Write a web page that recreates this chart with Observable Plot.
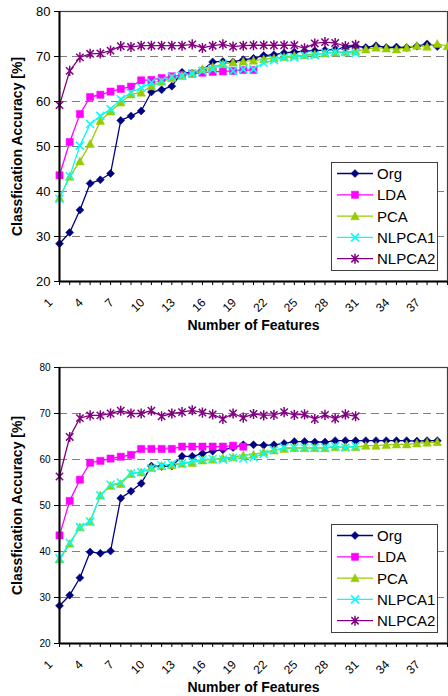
<!DOCTYPE html>
<html><head><meta charset="utf-8">
<script src="https://cdn.jsdelivr.net/npm/d3@7"></script>
<script src="https://cdn.jsdelivr.net/npm/@observablehq/plot@0.6"></script>
<style>
body{margin:0;background:#fff;font-family:"Liberation Sans",Arial,sans-serif;}
#wrap{width:448px;}
.chart{position:relative;width:448px;height:348px;overflow:hidden;}
.legend{position:absolute;left:331px;width:107px;height:109px;border:1px solid #404040;background:#fff;box-sizing:border-box;}
</style></head><body><div id="wrap"></div><script>
// ---- data ----
const xTickLabels = [1, 4, 7, 10, 13, 16, 19, 22, 25, 28, 31, 34, 37];
const yTickValues = [20, 30, 40, 50, 60, 70, 80];
const gridValues = [30, 40, 50, 60, 70];
const seriesNames = ["Org", "LDA", "PCA", "NLPCA1", "NLPCA2"];
const seriesColors = ["#000080", "#FF00FF", "#99CC00", "#00FFFF", "#800080"];
const xTitle = "Number of Features";
const yTitle = "Classfication Accuracy [%]";

// chart 1 (top)
const org1 = [28.4, 30.9, 35.9, 41.8, 42.6, 44.0, 55.8, 56.8, 57.9, 62.1, 62.6, 63.4, 66.5, 66.3, 67.0, 68.8, 68.9, 68.8, 69.3, 69.6, 70.2, 70.4, 70.8, 71.0, 71.2, 71.3, 71.4, 71.6, 72.0, 72.3, 72.0, 72.4, 72.0, 72.1, 72.0, 72.3, 72.8, 72.2];
const lda1 = [43.6, 51.0, 57.2, 61.0, 61.5, 62.2, 62.8, 63.3, 64.7, 64.8, 65.2, 65.6, 65.9, 66.2, 66.4, 66.6, 66.7, 66.8, 67.0, 67.0];
const pca1 = [38.6, 43.3, 46.7, 50.6, 55.7, 57.8, 59.8, 61.6, 62.0, 63.4, 64.4, 65.2, 65.7, 66.3, 67.2, 67.7, 68.3, 68.7, 68.9, 69.1, 69.4, 69.6, 69.9, 70.2, 70.3, 70.5, 70.7, 70.9, 71.0, 71.2, 71.6, 72.0, 71.8, 71.6, 72.0, 72.4, 72.2, 72.8, 72.3];
const nlpcaA1 = [38.4, 43.4, 50.2, 55.0, 56.8, 58.3, 60.5, 62.0, 63.1, 64.2, 64.6, 65.5, 65.7, 66.2, 66.8, 67.2, 68.3, 66.8, 67.2, 67.2, 68.6, 69.2, 69.8, 69.8, 70.3, 70.3, 70.8, 71.0, 71.0, 70.8];
const nlpcaB1 = [59.2, 66.8, 69.8, 70.6, 70.7, 71.3, 72.3, 72.1, 72.4, 72.4, 72.4, 72.4, 72.4, 72.7, 71.9, 72.4, 72.7, 72.2, 72.4, 72.5, 72.5, 72.5, 72.5, 72.5, 71.8, 72.9, 73.2, 73.0, 72.3, 72.6];

// chart 2 (bottom)
const org2 = [28.2, 30.5, 34.3, 39.9, 39.6, 40.1, 51.6, 53.1, 54.8, 58.6, 58.5, 58.6, 60.7, 60.7, 61.3, 61.8, 62.1, 62.6, 63.2, 63.2, 63.1, 63.2, 63.5, 63.9, 63.9, 63.8, 63.8, 64.1, 64.1, 64.1, 64.1, 64.1, 64.1, 64.1, 64.1, 64.0, 64.1, 64.1];
const lda2 = [43.5, 51.0, 55.6, 59.3, 59.7, 60.2, 60.6, 61.0, 62.3, 62.3, 62.3, 62.3, 62.8, 62.8, 62.8, 62.8, 62.8, 63.0, 62.8];
const pca2 = [38.3, 41.7, 45.3, 46.5, 52.2, 54.3, 54.7, 56.9, 57.2, 58.2, 58.6, 58.8, 59.1, 59.3, 59.8, 60.0, 60.3, 60.5, 60.9, 61.1, 61.6, 62.0, 62.3, 62.5, 62.5, 62.5, 62.5, 62.7, 62.7, 62.7, 63.0, 63.0, 63.2, 63.3, 63.3, 63.5, 63.7, 63.8];
const nlpcaA2 = [38.5, 41.9, 45.3, 46.5, 52.2, 54.5, 55.0, 57.0, 57.3, 58.1, 58.7, 59.0, 59.2, 59.6, 60.0, 60.1, 60.0, 60.4, 60.2, 60.5, 61.2, 62.0, 62.6, 62.6, 62.6, 62.6, 62.6, 62.9, 62.6, 62.9];
const nlpcaB2 = [56.3, 64.9, 69.0, 69.6, 69.6, 70.0, 70.6, 70.0, 70.0, 70.6, 69.4, 70.0, 70.3, 70.7, 70.2, 69.8, 68.8, 70.0, 69.1, 69.9, 69.6, 69.7, 70.3, 69.7, 69.8, 68.8, 69.7, 68.9, 69.8, 69.4];

const charts = [
  {series: [org1, lda1, pca1, nlpcaA1, nlpcaB1], marginTop: 11, marginBottom: 67, yFont: 13},
  {series: [org2, lda2, pca2, nlpcaA2, nlpcaB2], marginTop: 19, marginBottom: 53, yFont: 10}
];

// ---- marker symbols (Excel-like) ----
const rOf = s => Math.sqrt(s / Math.PI);
const symDiamond = {draw(c, s) {const r = rOf(s); c.moveTo(0, -r); c.lineTo(r, 0); c.lineTo(0, r); c.lineTo(-r, 0); c.closePath();}};
const symSquare = {draw(c, s) {const r = rOf(s); c.rect(-r, -r, 2 * r, 2 * r);}};
const symTriangle = {draw(c, s) {const r = rOf(s); c.moveTo(0, -r); c.lineTo(r, r * 0.85); c.lineTo(-r, r * 0.85); c.closePath();}};
const symX = {draw(c, s) {const r = rOf(s); c.moveTo(-r, -r); c.lineTo(r, r); c.moveTo(-r, r); c.lineTo(r, -r);}};
const symStar = {draw(c, s) {const r = rOf(s); const q = r * 0.8; c.moveTo(-q, -q); c.lineTo(q, q); c.moveTo(-q, q); c.lineTo(q, -q); c.moveTo(0, -r * 1.1); c.lineTo(0, r * 1.1);}};
const symbols = [symDiamond, symSquare, symTriangle, symX, symStar];
const symR = [4, 3.6, 4.3, 4, 4.6];
const filled = [true, true, true, false, false];

const FONT = "Liberation Sans, Arial, sans-serif";
const wrap = document.getElementById("wrap");

charts.forEach((ch) => {
  const div = document.createElement("div");
  div.className = "chart";
  wrap.appendChild(div);

  const marks = [
    Plot.gridY({ticks: gridValues, stroke: "#808080", strokeOpacity: 1, strokeWidth: 1, strokeDasharray: "8,5"}),
    Plot.frame({stroke: "#404040", strokeWidth: 1.2}),
    Plot.axisY({ticks: yTickValues, tickSize: 5, tickPadding: 4, fontSize: ch.yFont, label: null}),
    Plot.axisX({ticks: d3.range(1, 40), tickSize: 4, tickFormat: () => "", label: null}),
    Plot.text(xTickLabels, {x: d => d, text: d => String(d), frameAnchor: "bottom", rotate: -45, textAnchor: "end", lineAnchor: "middle", dx: -9, dy: 19, fontSize: 12}),
    Plot.text([xTitle], {frameAnchor: "bottom", textAnchor: "middle", dy: 44, fontWeight: "bold", fontSize: 14, lineAnchor: "middle", letterSpacing: "0.4px"}),
    Plot.text([yTitle], {frameAnchor: "left", textAnchor: "middle", rotate: -90, dx: -41.5, fontWeight: "bold", fontSize: 14, lineAnchor: "middle", letterSpacing: "0.2px"})
  ];
  ch.series.forEach((vals, k) => {
    const rows = vals.map((v, i) => ({f: i + 1, v}));
    marks.push(Plot.line(rows, {x: "f", y: "v", stroke: seriesColors[k], strokeWidth: 1.3}));
  });
  ch.series.forEach((vals, k) => {
    const rows = vals.map((v, i) => ({f: i + 1, v}));
    marks.push(Plot.dot(rows, {
      x: "f", y: "v", symbol: symbols[k], r: symR[k],
      fill: filled[k] ? seriesColors[k] : "none",
      stroke: seriesColors[k], strokeWidth: filled[k] ? 0.5 : 1.5
    }));
  });
  marks.push(Plot.ruleX([1], {stroke: "black", strokeWidth: 2}));
  marks.push(Plot.ruleY([20], {stroke: "black", strokeWidth: 2}));

  const svg = Plot.plot({
    width: 448, height: 348,
    marginLeft: 59, marginRight: 1, marginTop: ch.marginTop, marginBottom: ch.marginBottom,
    x: {domain: [1, 39]},
    y: {domain: [20, 80]},
    style: {fontFamily: FONT, fontSize: "12px", color: "black", background: "white"},
    marks
  });
  div.appendChild(svg);

  // legend box inside plot area (lower right)
  const frameBottom = 348 - ch.marginBottom;
  const lg = document.createElement("div");
  lg.className = "legend";
  lg.style.top = (frameBottom - 119) + "px";
  div.appendChild(lg);
  const ls = d3.select(lg).append("svg").attr("width", 105).attr("height", 107).style("display", "block");
  seriesNames.forEach((name, k) => {
    const y = 10.5 + k * 21.3;
    ls.append("line").attr("x1", 5).attr("x2", 41).attr("y1", y).attr("y2", y).attr("stroke", seriesColors[k]).attr("stroke-width", 1.3);
    ls.append("path").attr("transform", `translate(23,${y})`)
      .attr("d", d3.symbol().type(symbols[k]).size(Math.PI * symR[k] * symR[k])())
      .attr("fill", filled[k] ? seriesColors[k] : "none").attr("stroke", seriesColors[k]).attr("stroke-width", filled[k] ? 0.5 : 1.5);
    ls.append("text").attr("x", 45).attr("y", y).attr("dy", "0.36em").attr("font-size", 15).attr("font-family", FONT).text(name);
  });
});
</script></body></html>
